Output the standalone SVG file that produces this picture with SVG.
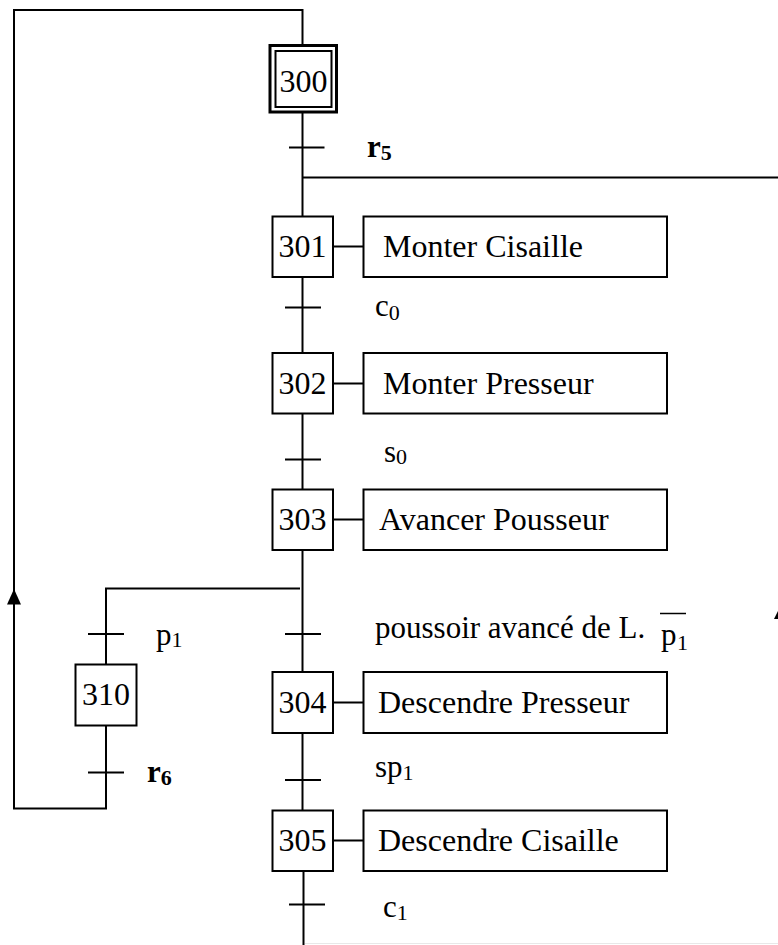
<svg xmlns="http://www.w3.org/2000/svg" width="778" height="945" viewBox="0 0 778 945">
<style>
.ln{stroke:#000;stroke-width:2;fill:none}
.box{stroke:#000;stroke-width:2;fill:#fff}
.t{font-family:"Liberation Serif","Times New Roman",serif;font-size:32px;fill:#000}
.lab{font-family:"Liberation Serif","Times New Roman",serif;font-size:31px;fill:#000}
.sub{font-size:22px}
.b{font-weight:bold}
</style>
<rect width="778" height="945" fill="#fff"/>
<g id="connectors">
<polyline class="ln" points="302.5,45 302.5,10 14,10 14,808.5 106,808.5 106,725"/>
<polygon points="14,589 7,604.5 21,604.5" fill="#000"/>
<line class="ln" x1="302.5" y1="112" x2="302.5" y2="216"/>
<line class="ln" x1="302.5" y1="177.5" x2="778" y2="177.5"/>
<line class="ln" x1="302.5" y1="277" x2="302.5" y2="353"/>
<line class="ln" x1="302.5" y1="414" x2="302.5" y2="489"/>
<line class="ln" x1="302.5" y1="550" x2="302.5" y2="672"/>
<line class="ln" x1="302.5" y1="733" x2="302.5" y2="810"/>
<line class="ln" x1="303.5" y1="871" x2="303.5" y2="945"/>
<polyline class="ln" points="300,588.5 106,588.5 106,664"/>
<line class="ln" x1="289" y1="147.5" x2="324.5" y2="147.5"/>
<line class="ln" x1="285" y1="307.5" x2="321" y2="307.5"/>
<line class="ln" x1="285" y1="459.5" x2="321" y2="459.5"/>
<line class="ln" x1="285" y1="634" x2="321" y2="634"/>
<line class="ln" x1="285" y1="780" x2="321" y2="780"/>
<line class="ln" x1="289" y1="904.5" x2="325" y2="904.5"/>
<line class="ln" x1="88" y1="634" x2="124" y2="634"/>
<line class="ln" x1="88" y1="772.5" x2="124" y2="772.5"/>
<line class="ln" x1="333" y1="246.5" x2="363" y2="246.5"/>
<line class="ln" x1="333" y1="383.5" x2="363" y2="383.5"/>
<line class="ln" x1="333" y1="519.5" x2="363" y2="519.5"/>
<line class="ln" x1="333" y1="702.5" x2="363" y2="702.5"/>
<line class="ln" x1="333" y1="840.5" x2="363" y2="840.5"/>
<polygon points="778,611 774,619 778,619" fill="#000"/>
<line x1="305" y1="943.5" x2="778" y2="943.5" stroke="#e8e8e8" stroke-width="1"/>
</g>
<g id="s300">
<rect x="270" y="45.5" width="66.5" height="66.5" fill="#fff" stroke="#000" stroke-width="3"/>
<rect x="275.5" y="51" width="56" height="56" class="box"/>
<text class="t" x="303.5" y="91.5" text-anchor="middle">300</text>
</g>
<g id="s301">
<rect x="272.5" y="216.5" width="60.5" height="60.5" class="box"/>
<text class="t" x="302.5" y="257" text-anchor="middle">301</text>
</g>
<g id="a301">
<rect x="363.5" y="216.5" width="303.5" height="60.5" class="box"/>
<text class="t" x="383" y="257">Monter Cisaille</text>
</g>
<g id="s302">
<rect x="272.5" y="353" width="60.5" height="60.5" class="box"/>
<text class="t" x="302.5" y="393.5" text-anchor="middle">302</text>
</g>
<g id="a302">
<rect x="363.5" y="353" width="303.5" height="60.5" class="box"/>
<text class="t" x="383" y="393.5">Monter Presseur</text>
</g>
<g id="s303">
<rect x="272.5" y="489.5" width="60.5" height="60.5" class="box"/>
<text class="t" x="302.5" y="530" text-anchor="middle">303</text>
</g>
<g id="a303">
<rect x="363.5" y="489.5" width="303.5" height="60.5" class="box"/>
<text class="t" x="379" y="530">Avancer Pousseur</text>
</g>
<g id="s304">
<rect x="272.5" y="672" width="60.5" height="61" class="box"/>
<text class="t" x="302.5" y="712.5" text-anchor="middle">304</text>
</g>
<g id="a304">
<rect x="363.5" y="672" width="303.5" height="61" class="box"/>
<text class="t" x="378" y="712.5">Descendre Presseur</text>
</g>
<g id="s305">
<rect x="272.5" y="810.5" width="60.5" height="60.5" class="box"/>
<text class="t" x="302.5" y="851" text-anchor="middle">305</text>
</g>
<g id="a305">
<rect x="363.5" y="810.5" width="303.5" height="60.5" class="box"/>
<text class="t" x="378" y="851">Descendre Cisaille</text>
</g>
<g id="s310">
<rect x="75.5" y="664.5" width="61" height="61" class="box"/>
<text class="t" x="106" y="705" text-anchor="middle">310</text>
</g>
<g id="labels">
<text class="lab b" x="367" y="157">r<tspan class="sub" dy="3">5</tspan></text>
<text class="lab" x="375" y="315.5">c<tspan class="sub" dy="4">0</tspan></text>
<text class="lab" x="384" y="461.5">s<tspan class="sub" dy="2">0</tspan></text>
<text class="lab" x="375" y="638">poussoir avancé de L.</text>
<text class="lab" x="661" y="645">p</text>
<text class="lab sub" x="677" y="650">1</text>
<line x1="660" y1="613.5" x2="686" y2="613.5" stroke="#000" stroke-width="1.5"/>
<text class="lab" x="156" y="645">p<tspan class="sub" dy="2">1</tspan></text>
<text class="lab b" x="147" y="781.5">r<tspan class="sub" dy="3">6</tspan></text>
<text class="lab" x="375" y="776.5">sp<tspan class="sub" dy="3">1</tspan></text>
<text class="lab" x="383" y="916.5">c<tspan class="sub" dy="3">1</tspan></text>
</g>
</svg>
